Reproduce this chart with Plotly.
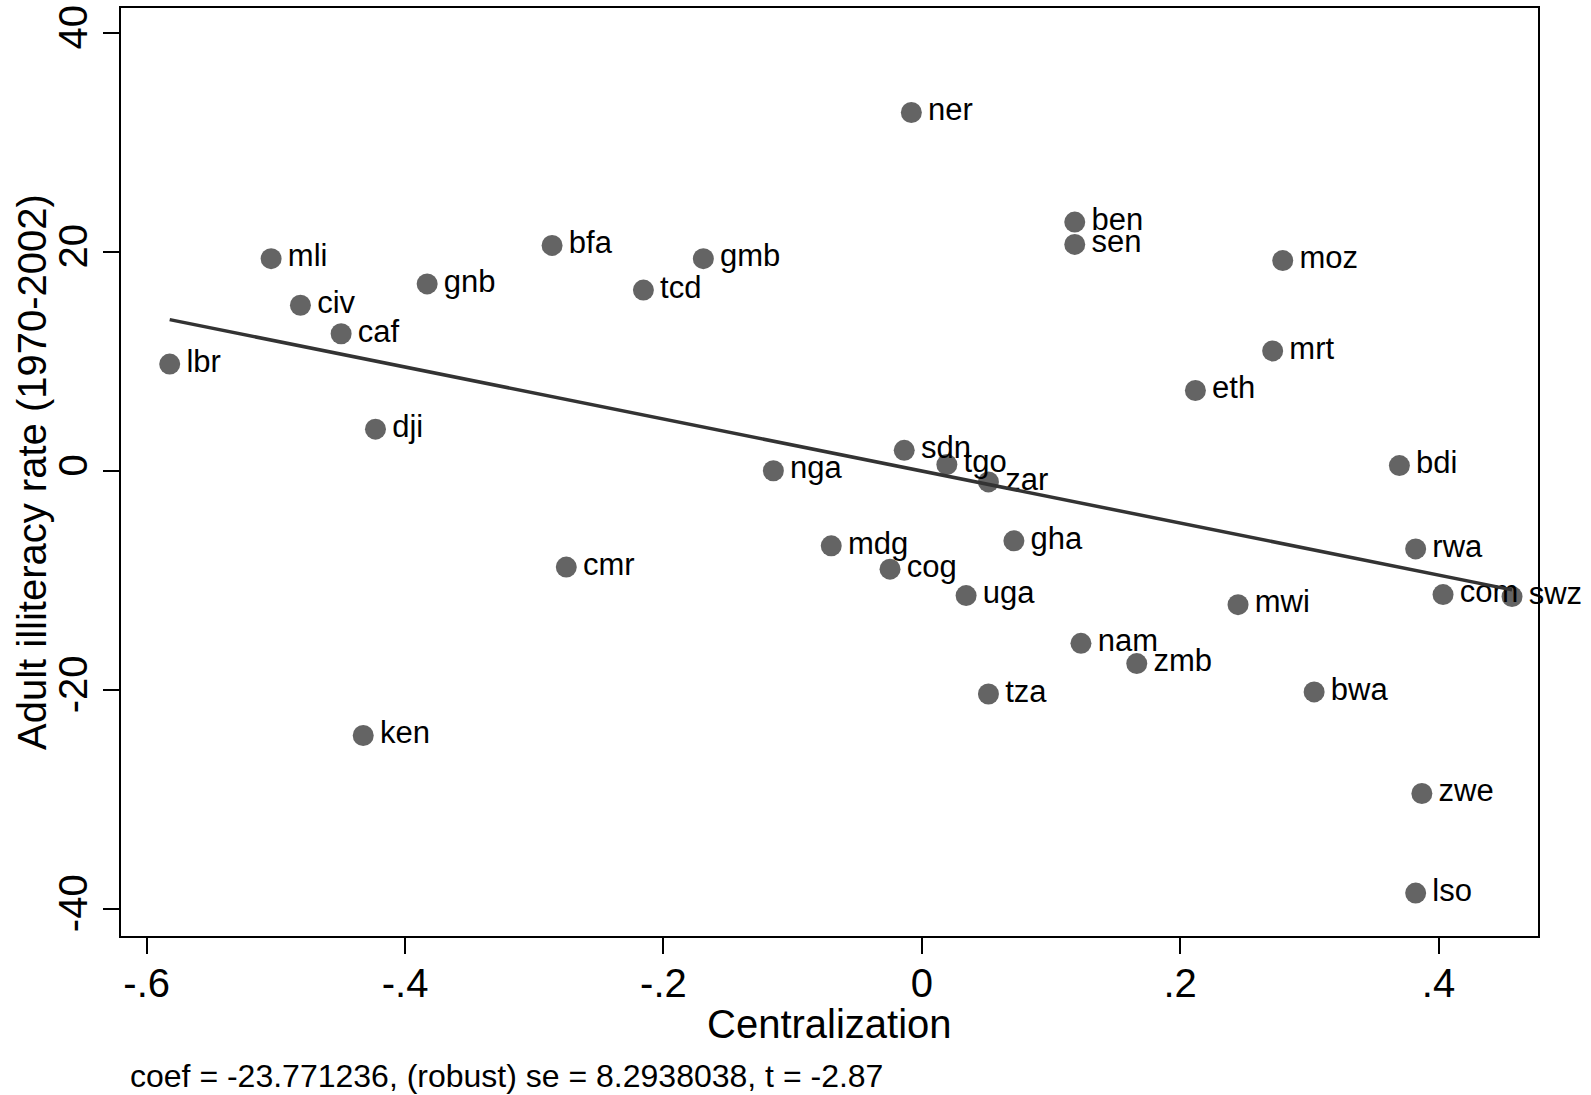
import numpy as np
import plotly.graph_objects as go

countries = ["ner", "ben", "sen", "mli", "bfa", "gmb", "moz", "gnb", "tcd", "civ",
             "caf", "lbr", "mrt", "eth", "dji", "sdn", "tgo", "nga", "bdi", "zar",
             "gha", "mdg", "rwa", "cmr", "cog", "uga", "com", "swz", "mwi", "nam",
             "zmb", "bwa", "tza", "ken", "zwe", "lso"]
centralization = [-0.0081, 0.1184, 0.1184, -0.5037, -0.2862, -0.1691, 0.2794, -0.3829, -0.2155, -0.4810,
                  -0.4495, -0.5822, 0.2716, 0.2118, -0.4229, -0.0136, 0.0194, -0.1149, 0.3697, 0.0516,
                  0.0713, -0.0701, 0.3823, -0.2752, -0.0246, 0.0343, 0.4035, 0.4569, 0.2448, 0.1232,
                  0.1664, 0.3037, 0.0516, -0.4324, 0.3871, 0.3823]
illiteracy = [32.77, 22.76, 20.72, 19.42, 20.63, 19.42, 19.24, 17.11, 16.55, 15.16,
              12.56, 9.79, 10.99, 7.38, 3.85, 1.91, 0.61, 0.05, 0.52, -0.97,
              -6.35, -6.81, -7.09, -8.75, -8.94, -11.35, -11.26, -11.44, -12.18, -15.71,
              -17.56, -20.15, -20.34, -24.13, -29.43, -38.52]

x_tickvals = [-0.6, -0.4, -0.2, 0, 0.2, 0.4]
x_ticktext = ["-.6", "-.4", "-.2", "0", ".2", ".4"]
y_tickvals = [-40, -20, 0, 20, 40]
y_ticktext = ["-40", "-20", "0", "20", "40"]
x_title = "Centralization"
y_title = "Adult illiteracy rate (1970-2002)"
footnote = "coef = -23.771236, (robust) se = 8.2938038, t = -2.87"

FONT = "Liberation Sans, Arial, Helvetica, sans-serif"

xa = np.array(centralization)
ya = np.array(illiteracy)
slope, intercept = np.polyfit(xa, ya, 1)
fit_x = np.array([xa.min(), xa.max()])
fit_y = intercept + slope * fit_x

fig = go.Figure()
fig.add_trace(go.Scatter(
    x=centralization, y=illiteracy, mode="markers+text",
    text=["\u200a" + c for c in countries],
    textposition="middle right",
    textfont=dict(family=FONT, size=31, color="black"),
    marker=dict(size=21, color="#646464", line=dict(width=0)),
    cliponaxis=False, showlegend=False,
))
fig.add_trace(go.Scatter(
    x=fit_x, y=fit_y, mode="lines",
    line=dict(color="#333333", width=3.5),
    showlegend=False,
))

fig.update_layout(
    width=1591, height=1095,
    margin=dict(l=121, r=53, t=8, b=159),
    paper_bgcolor="white", plot_bgcolor="white",
    font=dict(family=FONT, color="black"),
    xaxis=dict(
        range=[-0.6199, 0.477], showgrid=False, zeroline=False, automargin=False,
        showline=True, mirror=True, linecolor="black", linewidth=2,
        ticks="outside", ticklen=16, tickwidth=2, tickcolor="black",
        tickvals=x_tickvals, ticktext=x_ticktext, ticklabelstandoff=-5,
        tickfont=dict(family=FONT, size=40),
    ),
    yaxis=dict(
        range=[-42.44, 42.31], showgrid=False, zeroline=False, automargin=False,
        showline=True, mirror=True, linecolor="black", linewidth=2,
        ticks="outside", ticklen=16, tickwidth=2, tickcolor="black",
        tickvals=y_tickvals, ticktext=y_ticktext, tickangle=-90,
        tickfont=dict(family=FONT, size=40),
    ),
    annotations=[
        dict(text=x_title, xref="paper", yref="paper", x=0.5, y=-0.0948,
             xanchor="center", yanchor="middle", showarrow=False,
             font=dict(family=FONT, size=40, color="black")),
        dict(text=y_title, xref="paper", yref="paper", x=-0.0628, y=0.5,
             xanchor="center", yanchor="middle", showarrow=False, textangle=-90,
             font=dict(family=FONT, size=40, color="black")),
        dict(text=footnote, xref="paper", yref="paper", x=0.0049, y=-0.1506,
             xanchor="left", yanchor="middle", showarrow=False,
             font=dict(family=FONT, size=32, color="black")),
    ],
)

fig.write_html("out.html", config={"displayModeBar": False},
               post_script="document.body.style.margin='0';document.body.style.padding='0';")
